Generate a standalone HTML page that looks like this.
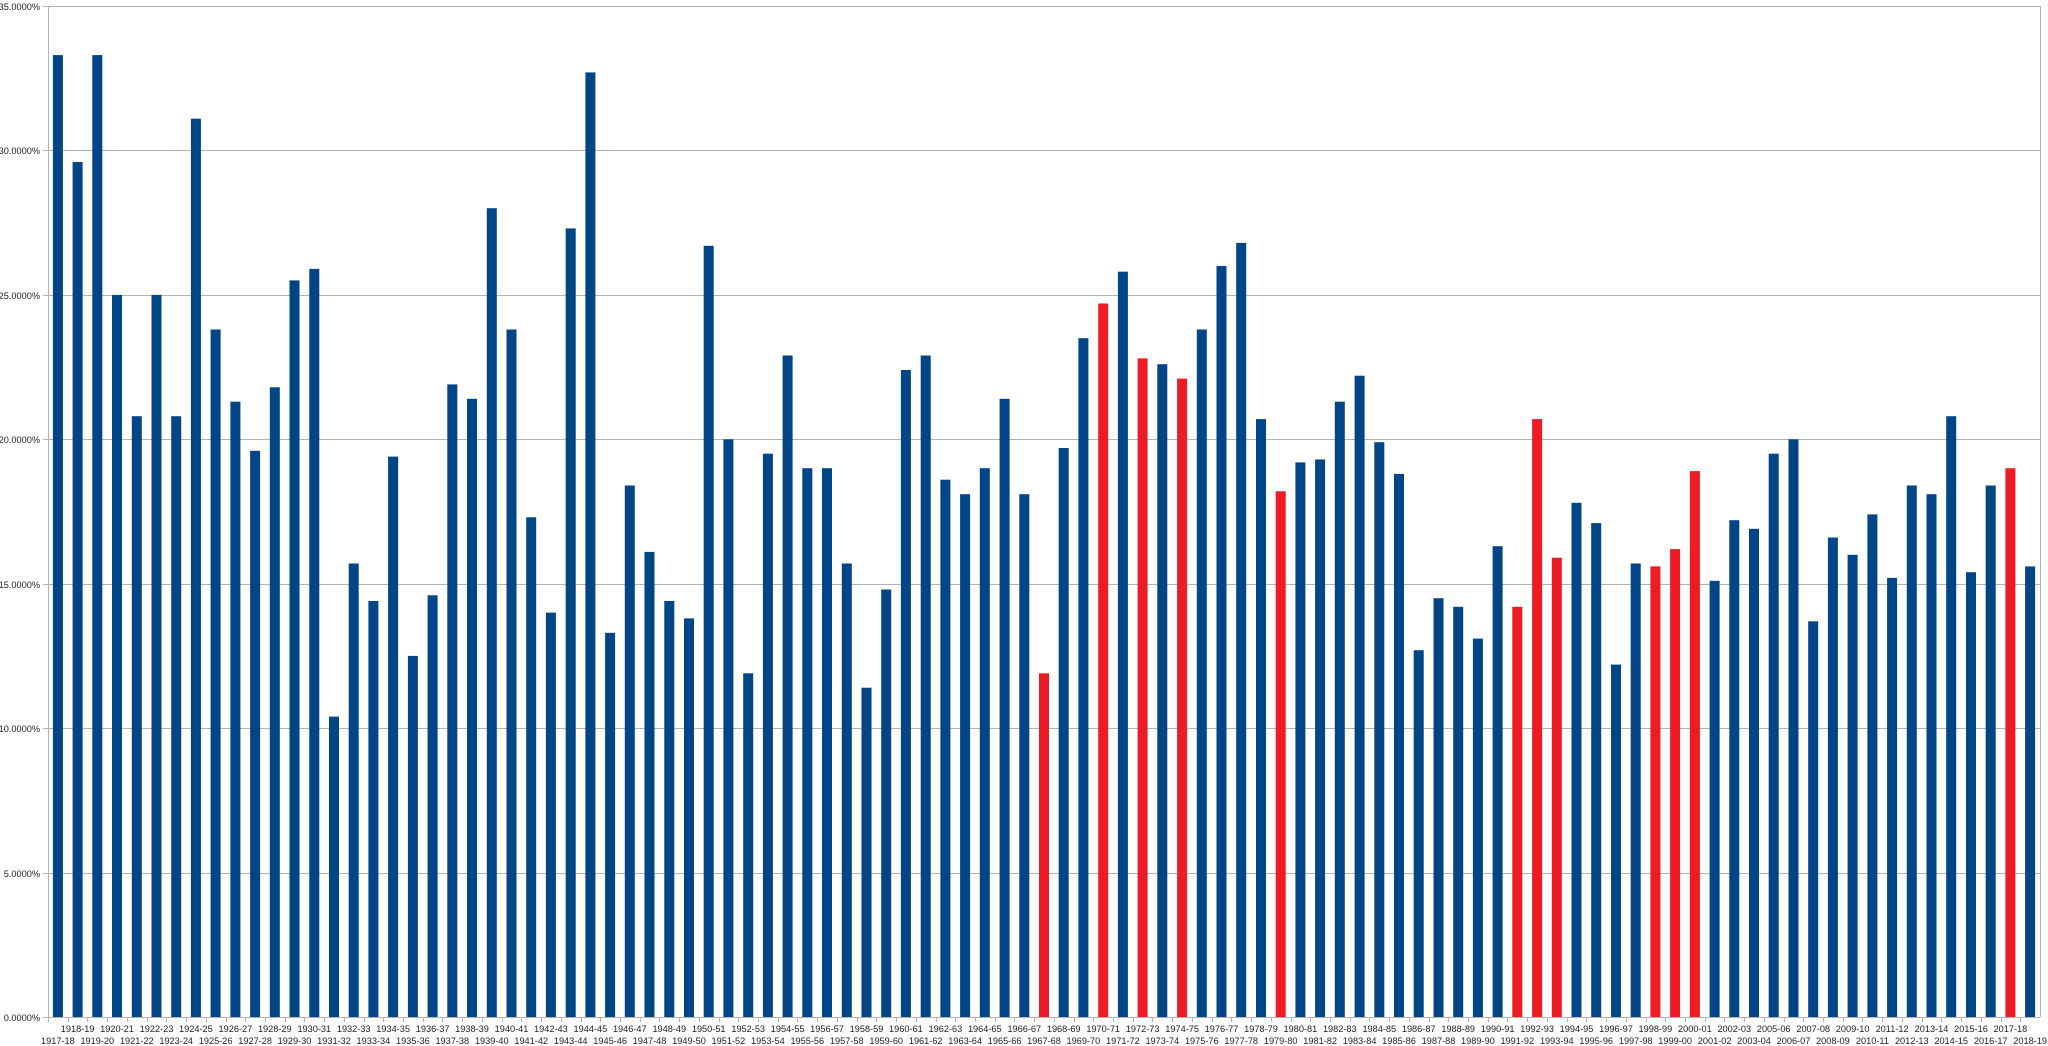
<!DOCTYPE html>
<html><head><meta charset="utf-8"><style>
html,body{margin:0;padding:0;background:#fff;}
svg{display:block;}
text{font-family:"Liberation Sans",sans-serif;font-size:9.2px;fill:#222;}
</style></head><body>
<svg id="c" width="2048" height="1046" xmlns="http://www.w3.org/2000/svg"></svg>
<script>
const labels=[];
for(let y=1917;y<=2018;y++){ if(y===2004) continue; labels.push(y+"-"+String((y+1)%100).padStart(2,"0")); }
const vals=[33.3,29.6,33.3,25.0,20.8,25.0,20.8,31.1,23.8,21.3,19.6,21.8,25.5,25.9,10.4,15.7,14.4,19.4,12.5,14.6,21.9,21.4,28.0,23.8,17.3,14.0,27.3,32.7,13.3,18.4,16.1,14.4,13.8,26.7,20.0,11.9,19.5,22.9,19.0,19.0,15.7,11.4,14.8,22.4,22.9,18.6,18.1,19.0,21.4,18.1,11.9,19.7,23.5,24.7,25.8,22.8,22.6,22.1,23.8,26.0,26.8,20.7,18.2,19.2,19.3,21.3,22.2,19.9,18.8,12.7,14.5,14.2,13.1,16.3,14.2,20.7,15.9,17.8,17.1,12.2,15.7,15.6,16.2,18.9,15.1,17.2,16.9,19.5,20.0,13.7,16.6,16.0,17.4,15.2,18.4,18.1,20.8,15.4,18.4,19.0,15.6];
const red=new Set(["1967-68","1970-71","1972-73","1974-75","1979-80","1991-92","1992-93","1993-94","1998-99","1999-00","2000-01","2017-18"]);
const X0=48,X1=2040,Y0=1017,Ytop=6,n=labels.length,cw=(X1-X0)/n;
const py=v=>Y0-(v/35)*(Y0-Ytop);
let s="";
for(let k=0;k<=7;k++){const v=k*5,y=Math.round(py(v))+0.5;
 s+=`<line x1="43" x2="${X1}" y1="${y}" y2="${y}" stroke="#b3b3b3" stroke-width="1"/>`;
 s+=`<text x="40" y="${y+3.5}" text-anchor="end">${v.toFixed(4)}%</text>`;}
s+=`<line x1="${X0+0.5}" x2="${X0+0.5}" y1="${Ytop}" y2="${Y0}" stroke="#b3b3b3"/>`;
s+=`<line x1="${X1+0.5}" x2="${X1+0.5}" y1="${Ytop}" y2="${Y0}" stroke="#b3b3b3"/>`;
for(let i=0;i<n;i++){
 const l=X0+i*cw, c=l+cw/2, h=Y0-py(vals[i]);
 s+=`<rect x="${(c-5).toFixed(1)}" y="${py(vals[i]).toFixed(1)}" width="10" height="${h.toFixed(1)}" fill="${red.has(labels[i])?'#ed1c24':'#004586'}"/>`;
 s+=`<line x1="${Math.round(l)+0.5}" x2="${Math.round(l)+0.5}" y1="${Y0}" y2="${Y0+5}" stroke="#b3b3b3"/>`;
 s+=`<text x="${c.toFixed(1)}" y="${i%2?1032:1044}" text-anchor="middle">${labels[i]}</text>`;
}
s+=`<line x1="${X0}" x2="${X1}" y1="${Y0+0.5}" y2="${Y0+0.5}" stroke="#b3b3b3"/>`;
document.getElementById("c").innerHTML=s;
</script>
</body></html>
